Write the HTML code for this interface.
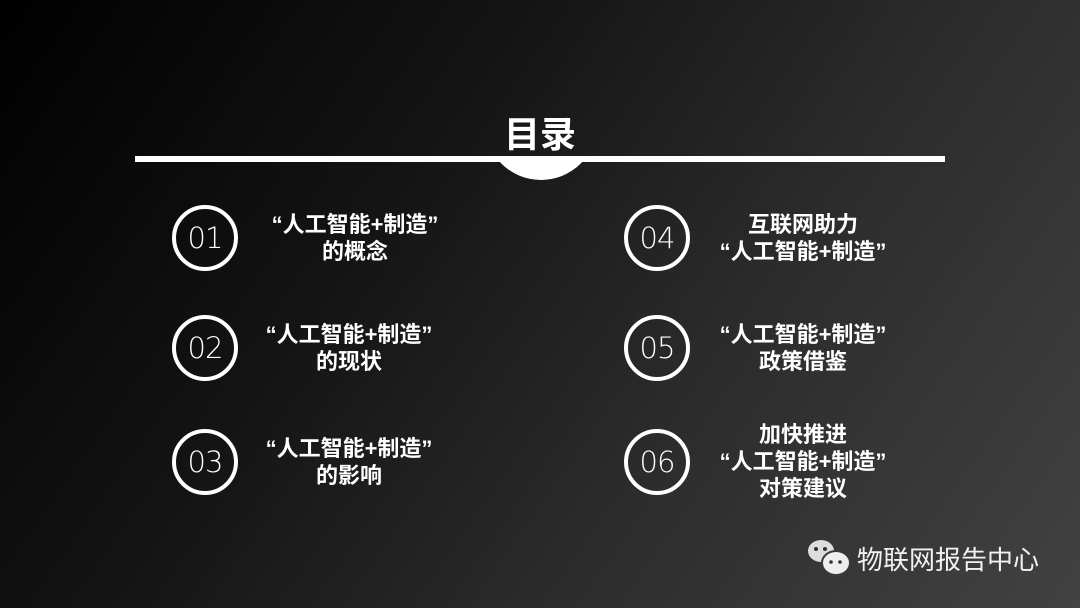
<!DOCTYPE html>
<html><head><meta charset="utf-8"><style>
html,body{margin:0;padding:0}
body{width:1080px;height:608px;overflow:hidden;position:relative;
background:linear-gradient(125deg,#000 0%,#141414 35%,#2c2c2c 65%,#424242 100%);
font-family:"Liberation Sans","Noto Sans CJK SC",sans-serif;color:#fff}
.t{position:absolute;font-weight:bold;font-size:22px;line-height:27px;text-align:center;width:260px}
.c{position:absolute;width:58px;height:58px;border:4px solid #fff;border-radius:50%;font-size:29px;line-height:58px;text-align:center;font-family:"DejaVu Sans","Liberation Sans",sans-serif;font-weight:200;letter-spacing:-1px}
</style></head><body>
<div style="position:absolute;left:0;top:106px;width:1080px;text-align:center;font-size:36px;font-weight:bold">目录</div>
<div style="position:absolute;left:135px;top:156px;width:810px;height:6px;background:#fff"></div>
<div style="position:absolute;left:485px;top:68px;width:112px;height:112px;border-radius:50%;background:#fff;clip-path:inset(90px 0 0 0)"></div>
<div class="c" style="left:172px;top:205px">01</div>
<div class="c" style="left:172px;top:315px">02</div>
<div class="c" style="left:172px;top:429px">03</div>
<div class="c" style="left:624px;top:205px">04</div>
<div class="c" style="left:624px;top:315px">05</div>
<div class="c" style="left:624px;top:429px">06</div>
<div class="t" style="left:225px;top:211px">“人工智能+制造”<br>的概念</div>
<div class="t" style="left:219px;top:321px">“人工智能+制造”<br>的现状</div>
<div class="t" style="left:219px;top:435px">“人工智能+制造”<br>的影响</div>
<div class="t" style="left:673px;top:211px">互联网助力<br>“人工智能+制造”</div>
<div class="t" style="left:673px;top:321px">“人工智能+制造”<br>政策借鉴</div>
<div class="t" style="left:673px;top:421px">加快推进<br>“人工智能+制造”<br>对策建议</div>
<svg style="position:absolute;left:806px;top:538px" width="50" height="40">
<ellipse cx="15" cy="13" rx="13" ry="11" fill="#ddd"/>
<ellipse cx="30" cy="25" rx="14" ry="12" fill="#eee" stroke="#3a3a3a" stroke-width="2"/>
<circle cx="10" cy="11" r="2" fill="#333"/><circle cx="19" cy="11" r="2" fill="#333"/>
<circle cx="25" cy="24" r="1.8" fill="#333"/><circle cx="34" cy="24" r="1.8" fill="#333"/>
</svg>
<div style="position:absolute;left:857px;top:542px;font-size:26px;color:#f2f2f2;font-family:'Noto Sans CJK SC',sans-serif;line-height:34px">物联网报告中心</div>
</body></html>
